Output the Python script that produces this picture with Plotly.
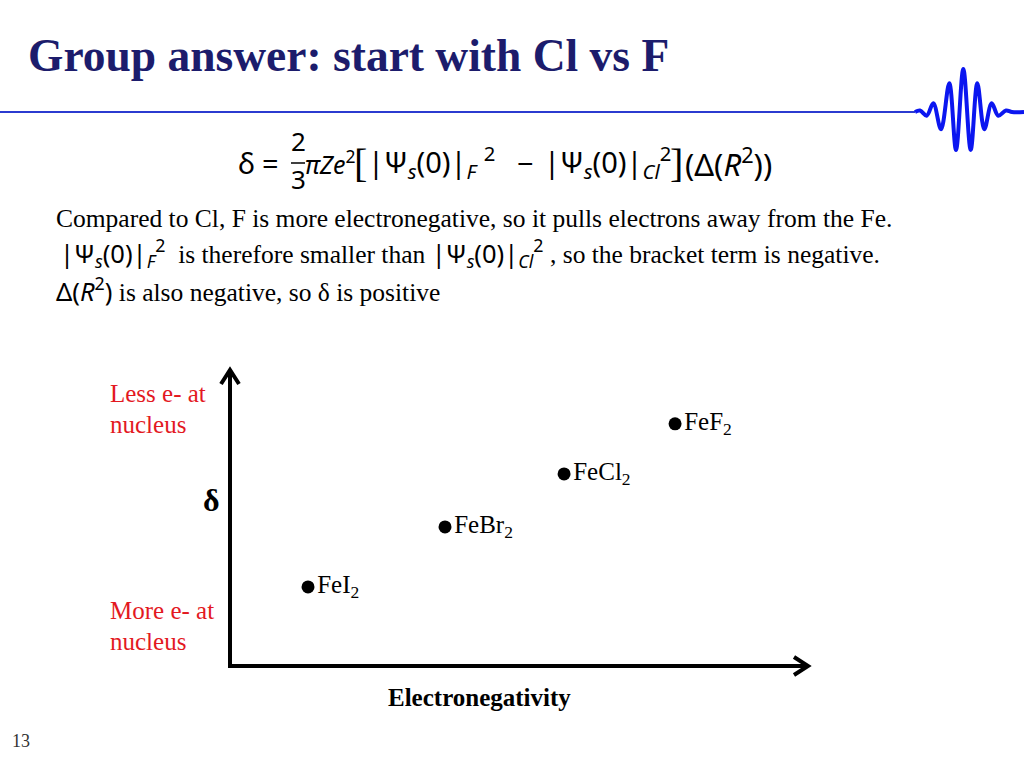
import plotly.graph_objects as go

# ---------------- data ----------------
compounds = ["FeI<sub>2</sub>", "FeBr<sub>2</sub>", "FeCl<sub>2</sub>", "FeF<sub>2</sub>"]
electroneg = [1.35, 3.72, 5.78, 7.70]     # position along electronegativity axis (0-10)
delta_vals = [2.67, 4.70, 6.49, 8.18]     # position along delta axis (0-10)

# decorative wave logo (page pixel coordinates)
wave_x = [915, 920, 926.7, 933.3, 941, 949.3, 956, 963.3, 970.7, 977.3, 984.3, 991.7, 998.3, 1006, 1012, 1024]
wave_y = [112, 110.5, 115.7, 103.3, 129.3, 83.3, 150, 69, 150, 83.3, 129.3, 103.3, 115.7, 110.5, 112, 112]

W, H = 1024, 768
SERIF = "Liberation Serif, Times New Roman, serif"
MATH = "Noto Sans, DejaVu Sans, sans-serif"
NAVY = "#1C1C6C"
RED = "#E3191F"

# chart axes pixel placement
x0_px, x1_px = 230, 808
y0_px, y1_px = 666, 370
XR, YR = 10.0, 10.0
sx = XR / (x1_px - x0_px)
sy = YR / (y0_px - y1_px)
PAD = 14  # px of room for the arrow heads

fig = go.Figure()

# overlay in page pixels for decorations
fig.add_trace(go.Scatter(x=[0, 915], y=[112, 112], mode="lines",
                         line=dict(color="#2B3BD0", width=2),
                         xaxis="x2", yaxis="y2", hoverinfo="skip", showlegend=False))
fig.add_trace(go.Scatter(x=wave_x, y=wave_y, mode="lines",
                         line=dict(color="#0B16F0", width=4, shape="spline", smoothing=1.0),
                         xaxis="x2", yaxis="y2", hoverinfo="skip", showlegend=False))

# data points
fig.add_trace(go.Scatter(x=electroneg, y=delta_vals, mode="markers+text",
                         text=compounds, textposition="middle right",
                         textfont=dict(family=SERIF, size=25, color="black"),
                         marker=dict(color="black", size=13),
                         hoverinfo="skip", showlegend=False))

fig.update_layout(
    width=W, height=H, autosize=False,
    margin=dict(l=0, r=0, t=0, b=0, pad=0),
    paper_bgcolor="white", plot_bgcolor="rgba(0,0,0,0)",
    xaxis=dict(domain=[(x0_px - PAD) / W, (x1_px + PAD) / W],
               range=[-PAD * sx, XR + PAD * sx], visible=False, fixedrange=True),
    yaxis=dict(domain=[(H - y0_px - PAD) / H, (H - y1_px + PAD) / H],
               range=[-PAD * sy, YR + PAD * sy], visible=False, fixedrange=True),
    xaxis2=dict(domain=[0, 1], range=[0, W], visible=False, anchor="y2", fixedrange=True),
    yaxis2=dict(domain=[0, 1], range=[H, 0], visible=False, anchor="x2", fixedrange=True),
)

# axis arrows (chevron heads), sizes in px converted to axis units
back, half = 14, 9
y_arrow = (f"M 0,{-2*sy} L 0,{YR} M {-half*sx},{YR - back*sy} L 0,{YR} L {half*sx},{YR - back*sy}")
x_arrow = (f"M {-2*sx},0 L {XR},0 M {XR - back*sx},{half*sy} L {XR},0 L {XR - back*sx},{-half*sy}")
for p in (y_arrow, x_arrow):
    fig.add_shape(type="path", path=p, xref="x", yref="y",
                  line=dict(color="black", width=4))

def ann(x, y, text, size, color="black", family=SERIF, xanchor="left", yanchor="middle"):
    fig.add_annotation(x=x, y=y, xref="x2", yref="y2", text=text, showarrow=False,
                       xanchor=xanchor, yanchor=yanchor,
                       font=dict(family=family, size=size, color=color))

# title
ann(26, 55, "<b>Group answer: start with Cl vs F</b>", 45.5, NAVY)

# equation (pieces placed like the typeset formula)
EQ = 29
EY = 162
ann(236, EY, "δ", EQ, family=MATH)
ann(260, EY, "=", EQ, family=MATH)
ann(298, 141, "2", EQ - 3, family=MATH, xanchor="center")
ann(298, 179, "3", EQ - 3, family=MATH, xanchor="center")
fig.add_shape(type="line", xref="x2", yref="y2", x0=291, x1=305, y0=163, y1=163,
              line=dict(color="black", width=1.5))
ann(303, EY, "<i>πZe</i><sup>2</sup>", 25, family=MATH)
ann(352, EY + 1, "[", 40, family=SERIF)
ann(366, EY, "|Ψ<sub><i>s</i></sub>(0)|<sub><i>F</i></sub> <sup>2</sup>", EQ, family=MATH)
ann(515, EY, "−", EQ, family=MATH)
ann(542, EY, "|Ψ<sub><i>s</i></sub>(0)|<sub><i>Cl</i></sub><sup>2</sup>", EQ, family=MATH)
ann(668, EY + 1, "]", 40, family=SERIF)
ann(683, EY, "(Δ(<i>R</i><sup>2</sup>))", 31, family=MATH)

# paragraph
ann(54, 218, "Compared to Cl, F is more electronegative, so it pulls electrons away from the Fe.", 25.5)
ann(58, 253,
    "<span style=\"font-family:Noto Sans\">|Ψ<sub><i>s</i></sub>(0)|<sub><i>F</i></sub><sup>2</sup></span>"
    "  is therefore smaller than "
    "<span style=\"font-family:Noto Sans\">|Ψ<sub><i>s</i></sub>(0)|<sub><i>Cl</i></sub><sup>2</sup></span>"
    " , so the bracket term is negative.", 25.5)
ann(54, 289,
    "<span style=\"font-family:Noto Sans\">Δ(<i>R</i><sup>2</sup>)</span> is also negative, so δ is positive", 25.5)

# chart labels
ann(108, 393, "Less e- at", 25, RED)
ann(108, 424, "nucleus", 25, RED)
ann(108, 610, "More e- at", 25, RED)
ann(108, 641, "nucleus", 25, RED)
ann(211, 500, "<b>δ</b>", 32, xanchor="center")
ann(479, 697, "<b>Electronegativity</b>", 25, xanchor="center")

# page number
ann(10, 741, "13", 18, "#333333")

fig.write_html("out.html", config={"displayModeBar": False, "staticPlot": True},
               post_script="document.body.style.margin='0';document.body.style.overflow='hidden';")
